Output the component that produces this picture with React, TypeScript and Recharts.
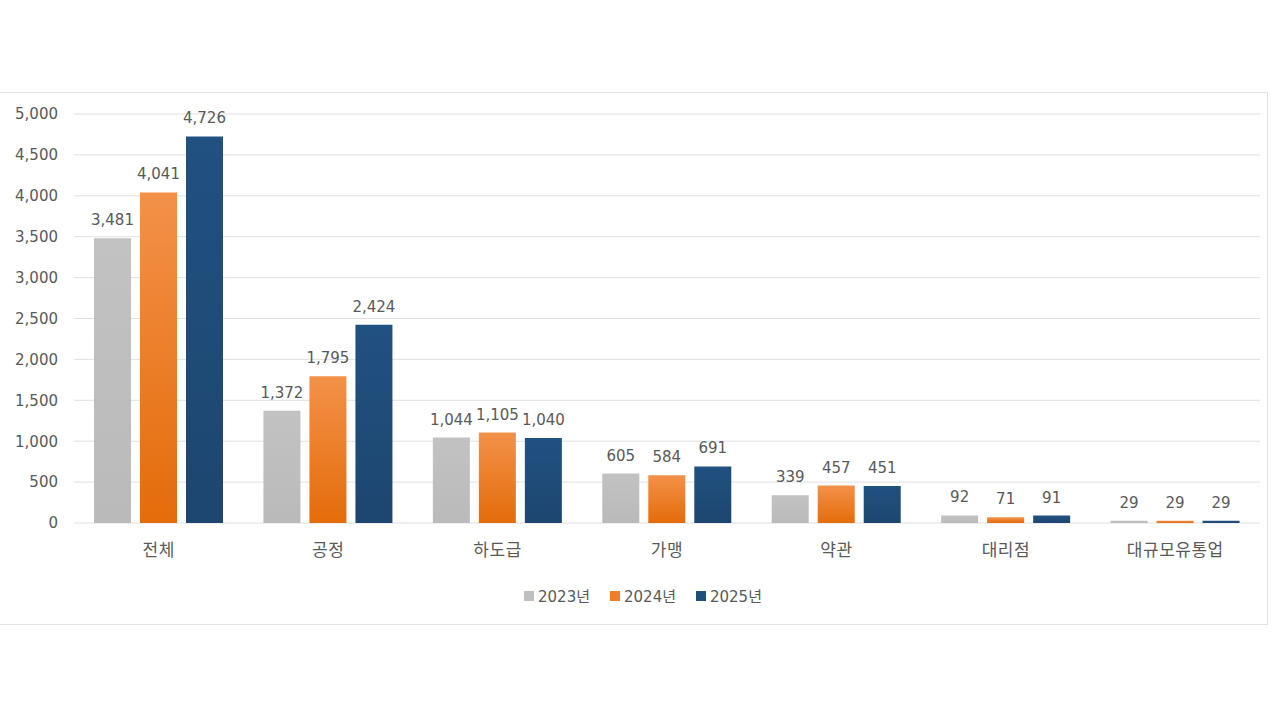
import { Bar, BarChart, CartesianGrid, LabelList, Legend, XAxis, YAxis } from 'recharts'

const categories = ['전체', '공정', '하도급', '가맹', '약관', '대리점', '대규모유통업']
const y2023 = [3481, 1372, 1044, 605, 339, 92, 29]
const y2024 = [4041, 1795, 1105, 584, 457, 71, 29]
const y2025 = [4726, 2424, 1040, 691, 451, 91, 29]
const yTicks = [0, 500, 1000, 1500, 2000, 2500, 3000, 3500, 4000, 4500, 5000]

const seriesInfo = [
  { key: 'y2023', name: '2023년', fill: 'url(#gGray)', swatch: '#bfbfbf' },
  { key: 'y2024', name: '2024년', fill: 'url(#gOrange)', swatch: '#ee7d2c' },
  { key: 'y2025', name: '2025년', fill: 'url(#gNavy)', swatch: '#1f4e79' },
]

const data = categories.map((name, i) => ({
  name,
  y2023: y2023[i],
  y2024: y2024[i],
  y2025: y2025[i],
}))

const font = '"DejaVu Sans", "Noto Sans CJK KR", sans-serif'
const krFont = '"Noto Sans CJK KR", sans-serif'
const textColor = '#595959'

const fmt = (v: number) => v.toLocaleString('en-US')

function LegendContent() {
  return (
    <div
      style={{
        display: 'flex',
        justifyContent: 'center',
        gap: 20,
        marginLeft: 24,
        fontFamily: font,
        fontSize: 15,
        color: textColor,
      }}
    >
      {seriesInfo.map((s) => (
        <div key={s.key} style={{ display: 'flex', alignItems: 'center', gap: 4 }}>
          <span style={{ display: 'inline-block', width: 10, height: 10, background: s.swatch }} />
          <span>{s.name}</span>
        </div>
      ))}
    </div>
  )
}

export default function App() {
  return (
    <div style={{ position: 'fixed', left: 0, top: 0, width: 1280, height: 720, background: '#fff' }}>
      <div
        style={{
          position: 'absolute',
          left: 0,
          top: 92,
          width: 1267,
          height: 531,
          border: '1px solid #e3e3e3',
          borderLeft: 'none',
        }}
      >
        <BarChart
          width={1267}
          height={531}
          data={data}
          margin={{ top: 21, right: 7, left: 2, bottom: 15 }}
          barSize={37}
          barGap={9}
        >
          <defs>
            <linearGradient id='gGray' x1='0' y1='0' x2='0' y2='1'>
              <stop offset='0%' stopColor='#c2c2c2' />
              <stop offset='100%' stopColor='#bababa' />
            </linearGradient>
            <linearGradient id='gOrange' x1='0' y1='0' x2='0' y2='1'>
              <stop offset='0%' stopColor='#f39149' />
              <stop offset='100%' stopColor='#e46c0a' />
            </linearGradient>
            <linearGradient id='gNavy' x1='0' y1='0' x2='0' y2='1'>
              <stop offset='0%' stopColor='#215181' />
              <stop offset='100%' stopColor='#1d4670' />
            </linearGradient>
          </defs>
          <CartesianGrid vertical={false} stroke='#e0e0e0' />
          <XAxis
            dataKey='name'
            height={62}
            tickLine={false}
            axisLine={false}
            tickMargin={15}
            tick={{ fill: textColor, fontSize: 17, fontFamily: krFont, letterSpacing: 0.5 }}
          />
          <YAxis
            width={72}
            domain={[0, 5000]}
            ticks={yTicks}
            interval={0}
            tickLine={false}
            axisLine={false}
            tickMargin={10}
            tickFormatter={fmt}
            tick={{ fill: textColor, fontSize: 15, fontFamily: font }}
          />
          <Legend verticalAlign='bottom' height={24} content={<LegendContent />} />
          {seriesInfo.map((s) => (
            <Bar key={s.key} dataKey={s.key} name={s.name} fill={s.fill} isAnimationActive={false}>
              <LabelList
                dataKey={s.key}
                position='top'
                offset={13}
                formatter={(v: any) => fmt(Number(v))}
                style={{ fill: textColor, fontSize: 15, fontFamily: font }}
              />
            </Bar>
          ))}
        </BarChart>
      </div>
    </div>
  )
}
